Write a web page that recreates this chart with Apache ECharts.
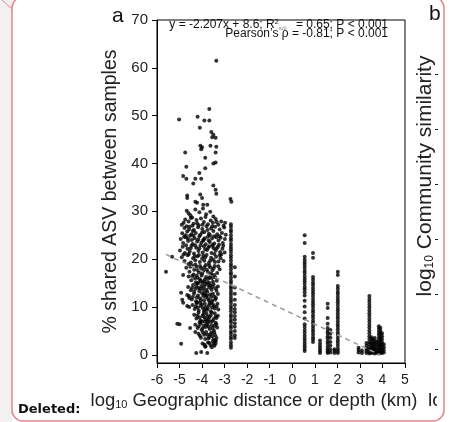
<!DOCTYPE html>
<html>
<head>
<meta charset="utf-8">
<script src="https://cdn.jsdelivr.net/npm/echarts@6/dist/echarts.min.js"></script>
<style>
  html, body { margin: 0; padding: 0; background: #fff; }
  #chart { width: 454px; height: 422px; }
</style>
</head>
<body>
<div id="chart"></div>
<script>
// x ticks and y ticks of panel a
const xTicks = [-6, -5, -4, -3, -2, -1, 0, 1, 2, 3, 4, 5];
const yTicks = [0, 10, 20, 30, 40, 50, 60, 70];

// sparse high points of the small-distance cloud
const cloudHigh = [
  [-3.37, 61.5], [-5.02, 49.2], [-4.2, 49.8], [-4.1, 47.5], [-3.9, 49.0], [-3.68, 49.0], [-3.68, 51.4],
  [-4.75, 42.3], [-4.7, 39.3], [-4.84, 37.4], [-4.7, 36.8], [-4.08, 43.7], [-4.04, 43.0], [-4.0, 43.4],
  [-3.63, 43.7], [-3.37, 43.5], [-3.59, 46.6], [-3.5, 46.0], [-3.4, 45.4], [-3.55, 45.5], [-3.4, 42.3],
  [-3.86, 41.2], [-4.12, 38.0], [-3.86, 39.0], [-3.5, 40.0], [-3.4, 40.2], [-4.3, 36.8], [-4.39, 35.8],
  [-4.04, 36.8], [-3.5, 35.4], [-3.4, 34.5], [-3.37, 33.7], [-4.66, 33.3], [-4.66, 32.8], [-4.08, 33.5],
  [-4.0, 32.8], [-4.3, 32.0], [-4.22, 31.8], [-3.95, 31.4], [-3.77, 31.4], [-2.74, 32.6], [-2.7, 32.0]
];

// dense cloud, x between -5 and -2.9
const cloudMain = [
  [-4.68, 30.1], [-4.6, 29.6], [-4.52, 29.2], [-4.3, 30.4], [-4.12, 29.8], [-3.96, 30.6], [-3.82, 29.4], [-3.64, 29.9], [-3.5, 28.9], [-4.44, 28.7],
  [-4.82, 27.6], [-4.75, 28.3], [-4.6, 27.9], [-4.5, 28.6], [-4.38, 27.4], [-4.25, 28.2], [-4.15, 27.1], [-4.05, 28.5], [-3.92, 27.8], [-3.85, 28.8],
  [-3.74, 27.3], [-3.62, 28.1], [-3.52, 27.6], [-3.4, 28.4], [-3.28, 27.2], [-3.15, 27.9], [-3.05, 27.0], [-2.98, 27.6], [-4.9, 27.2], [-4.43, 27.0],
  [-4.88, 25.4], [-4.78, 26.5], [-4.66, 25.8], [-4.56, 26.8], [-4.47, 25.2], [-4.36, 26.1], [-4.28, 25.5], [-4.18, 26.7], [-4.08, 25.1], [-3.99, 26.3],
  [-3.9, 25.7], [-3.8, 26.9], [-3.7, 25.3], [-3.6, 26.4], [-3.5, 25.9], [-3.42, 26.8], [-3.33, 25.2], [-3.22, 26.2], [-3.12, 25.5], [-3.02, 26.6],
  [-2.95, 25.1], [-4.72, 25.0], [-4.0, 25.6], [-3.65, 25.0],
  [-4.95, 24.2], [-4.84, 23.4], [-4.73, 24.6], [-4.62, 23.8], [-4.53, 24.9], [-4.42, 23.2], [-4.33, 24.4], [-4.22, 23.7], [-4.12, 24.8], [-4.03, 23.5],
  [-3.93, 24.1], [-3.84, 23.1], [-3.74, 24.7], [-3.66, 23.6], [-3.56, 24.3], [-3.46, 23.3], [-3.37, 24.6], [-3.27, 23.9], [-3.18, 24.5], [-3.08, 23.4],
  [-2.99, 24.2], [-4.46, 24.0], [-3.88, 24.4], [-3.52, 23.0],
  [-4.98, 21.8], [-4.86, 22.6], [-4.76, 21.3], [-4.65, 22.2], [-4.55, 21.6], [-4.47, 22.8], [-4.36, 21.2], [-4.26, 22.4], [-4.16, 21.7], [-4.07, 22.9],
  [-3.97, 21.4], [-3.87, 22.1], [-3.78, 21.9], [-3.68, 22.7], [-3.58, 21.3], [-3.49, 22.3], [-3.4, 21.8], [-3.3, 22.6], [-3.2, 21.5], [-3.1, 22.2],
  [-3.0, 21.4], [-3.45, 21.1], [-3.25, 23.0], [-3.15, 21.0],
  [-4.9, 20.4], [-4.78, 19.6], [-4.64, 20.8], [-4.5, 19.3], [-4.4, 20.2], [-4.3, 19.8], [-4.2, 20.6], [-4.1, 19.4], [-4.0, 20.1], [-3.9, 19.7],
  [-3.8, 20.9], [-3.7, 19.2], [-3.6, 20.3], [-3.5, 19.9], [-3.38, 20.5], [-3.27, 19.5], [-3.18, 20.2], [-3.05, 19.6], [-4.6, 19.0], [-3.95, 20.7],
  [-4.7, 18.2], [-4.56, 17.4], [-4.45, 18.7], [-4.35, 17.8], [-4.24, 18.4], [-4.14, 17.2], [-4.04, 18.1], [-3.94, 17.6], [-3.84, 18.8], [-3.74, 17.3],
  [-3.64, 18.3], [-3.54, 17.7], [-3.44, 18.6], [-3.33, 17.1], [-3.22, 17.9], [-4.0, 17.0], [-3.6, 17.0],
  [-4.6, 16.4], [-4.48, 15.6], [-4.38, 16.8], [-4.28, 15.2], [-4.2, 16.1], [-4.1, 15.8], [-4.02, 16.6], [-3.92, 15.4], [-3.82, 16.3], [-3.72, 15.9],
  [-3.62, 16.7], [-3.52, 15.3], [-3.42, 16.2], [-3.35, 15.5], [-4.32, 16.0], [-3.98, 15.1], [-3.68, 15.0],
  [-4.62, 14.2], [-4.5, 13.5], [-4.4, 14.6], [-4.3, 13.8], [-4.21, 14.9], [-4.12, 13.3], [-4.03, 14.4], [-3.95, 13.7], [-3.86, 14.8], [-3.77, 13.2],
  [-3.68, 14.1], [-3.58, 13.6], [-3.49, 14.7], [-3.4, 13.9], [-3.3, 14.3], [-4.16, 14.0], [-3.9, 13.0], [-3.62, 14.5],
  [-4.58, 12.3], [-4.46, 11.6], [-4.36, 12.8], [-4.27, 11.2], [-4.18, 12.4], [-4.09, 11.8], [-4.0, 12.9], [-3.91, 11.4], [-3.82, 12.1], [-3.73, 11.7],
  [-3.64, 12.6], [-3.55, 11.3], [-3.46, 12.2], [-3.38, 11.9], [-3.3, 12.7], [-4.22, 11.0], [-3.86, 12.5], [-3.6, 11.0],
  [-4.42, 10.4], [-4.33, 9.6], [-4.24, 10.8], [-4.15, 9.3], [-4.06, 10.2], [-3.97, 9.8], [-3.88, 10.7], [-3.79, 9.4], [-3.7, 10.3], [-3.61, 9.1],
  [-3.52, 10.6], [-3.44, 9.7], [-3.36, 10.1], [-3.28, 9.5], [-4.1, 10.9], [-3.92, 9.0], [-3.56, 9.9],
  [-4.35, 8.4], [-4.25, 7.6], [-4.16, 8.8], [-4.07, 7.2], [-3.98, 8.1], [-3.89, 7.8], [-3.8, 8.6], [-3.71, 7.4], [-3.62, 8.3], [-3.53, 7.1],
  [-3.44, 8.7], [-3.36, 7.7], [-3.3, 8.2], [-4.0, 7.0], [-3.75, 8.0],
  [-4.3, 6.3], [-4.2, 5.6], [-4.11, 6.8], [-4.02, 5.2], [-3.93, 6.1], [-3.84, 5.8], [-3.75, 6.6], [-3.66, 5.4], [-3.57, 6.2], [-3.48, 5.1],
  [-3.4, 6.7], [-3.33, 5.7], [-3.88, 6.9],
  [-4.16, 4.4], [-4.05, 3.6], [-3.96, 4.7], [-3.86, 3.3], [-3.77, 4.2], [-3.68, 3.8], [-3.59, 4.6], [-3.5, 3.2], [-3.42, 4.1], [-3.36, 3.5],
  [-3.98, 2.4], [-3.85, 1.8], [-3.74, 2.6], [-3.62, 2.0], [-3.52, 2.8], [-3.45, 1.9], [-3.4, 2.4]
];

// more points filling the densest part of the cloud
const cloudCore = [
  [-4.58, 26.2], [-4.41, 25.9], [-4.22, 27.5], [-3.98, 27.2], [-3.76, 26.1], [-3.55, 26.9], [-3.35, 27.8], [-4.69, 26.9],
  [-4.63, 24.3], [-4.38, 24.9], [-4.17, 24.1], [-3.95, 23.9], [-3.71, 23.9], [-3.47, 24.8], [-3.23, 24.8], [-4.8, 24.7],
  [-4.71, 22.9], [-4.51, 22.3], [-4.31, 22.9], [-4.12, 22.3], [-3.92, 22.7], [-3.73, 22.4], [-3.54, 22.8], [-3.35, 22.3], [-3.06, 22.8],
  [-4.82, 21.0], [-4.59, 21.1], [-4.33, 20.6], [-4.14, 20.9], [-3.86, 20.4], [-3.64, 19.7], [-3.43, 19.4], [-3.22, 20.8],
  [-4.52, 18.4], [-4.3, 18.9], [-4.09, 18.6], [-3.9, 18.3], [-3.69, 18.7], [-3.49, 18.1], [-3.28, 18.5], [-4.19, 17.7], [-3.79, 17.8],
  [-4.44, 16.5], [-4.24, 16.6], [-4.06, 15.5], [-3.87, 15.8], [-3.66, 16.2], [-3.47, 16.7], [-4.15, 15.1], [-3.77, 15.2], [-3.57, 16.0],
  [-4.45, 14.0], [-4.25, 14.4], [-4.08, 13.8], [-3.91, 14.3], [-3.73, 14.6], [-3.54, 14.2], [-3.36, 13.4], [-3.81, 13.6], [-4.35, 13.2],
  [-4.41, 12.1], [-4.23, 12.0], [-4.05, 11.4], [-3.95, 12.3], [-3.78, 12.4], [-3.6, 12.1], [-3.42, 11.5], [-3.69, 11.3], [-3.52, 12.8],
  [-4.28, 10.1], [-4.19, 9.9], [-4.01, 10.6], [-3.84, 10.0], [-3.75, 9.7], [-3.66, 10.8], [-3.48, 10.2], [-3.32, 10.7], [-3.9, 9.4],
  [-4.21, 8.2], [-4.11, 7.8], [-3.94, 8.5], [-3.85, 7.4], [-3.67, 7.9], [-3.58, 8.8], [-3.4, 8.0], [-3.49, 7.5], [-3.76, 7.1],
  [-4.15, 6.0], [-4.07, 6.5], [-3.98, 5.5], [-3.8, 6.3], [-3.71, 5.9], [-3.62, 6.9], [-3.53, 5.6], [-3.44, 6.1], [-3.37, 6.4],
  [-4.1, 4.0], [-3.91, 4.2], [-3.82, 4.8], [-3.72, 3.4], [-3.64, 4.3], [-3.55, 3.9], [-3.46, 4.6], [-3.39, 2.9],
  [-3.9, 2.1], [-3.68, 2.5], [-3.57, 1.6], [-3.48, 2.3], [-3.42, 3.0]
];

// scattered points left and below the cloud
const cloudLow = [
  [-5.6, 17.4], [-5.33, 20.5], [-5.1, 6.5], [-5.0, 6.4], [-4.93, 2.3], [-4.84, 16.7], [-4.93, 13.0], [-4.88, 11.5],
  [-4.84, 10.9], [-4.66, 10.2], [-4.57, 10.0], [-4.57, 11.9], [-4.66, 12.5], [-4.53, 5.6], [-4.26, 0.4], [-4.04, 0.6],
  [-3.77, 0.4], [-4.3, 4.8], [-3.86, 1.7]
];

// vertical columns: x position and y values read along each column
const colXs = [-2.72, -2.55, 0.55, 0.92, 1.23, 1.57, 1.69, 1.87, 2.02, 2.94, 3.09, 3.29, 3.42, 3.51, 3.58, 3.66, 3.75, 3.84, 3.91, 3.98, 4.06];
const colM272 = [27.3, 26.8, 26.1, 25.7, 25.0, 24.4, 23.9, 23.2, 22.6, 22.1, 21.5, 20.8, 20.3, 19.7, 19.0, 18.5, 17.9, 17.2, 16.8, 16.1, 15.5, 15.0, 14.3, 13.8, 13.2, 12.6, 12.0, 11.4, 10.9, 10.2, 9.7, 9.1, 8.4, 7.9, 7.3, 6.8, 6.1, 5.6, 4.9, 4.4, 3.8, 3.3, 2.6, 2.0, 1.5];
const colM255 = [18.3, 16.4, 14.1, 12.8, 11.5, 10.4, 9.6, 8.9, 8.1, 7.4, 6.6, 5.9, 5.0, 4.1, 3.5];
const col055 = [25.0, 23.4, 20.5, 19.9, 19.3, 18.8, 18.2, 17.6, 17.1, 16.5, 15.9, 15.4, 14.8, 14.2, 13.7, 13.1, 12.4, 11.3, 10.1, 8.9, 7.6, 6.4, 5.8, 5.2, 4.6, 4.0, 3.4, 2.9, 2.3, 1.8, 1.3, 0.8];
const col092 = [21.3, 20.3, 16.3, 15.7, 15.1, 14.6, 14.0, 13.4, 12.9, 12.3, 11.7, 11.1, 10.6, 10.0, 9.4, 8.9, 8.3, 7.7, 7.1, 6.6, 6.0, 5.4, 4.9, 4.3, 3.7, 3.2, 2.7];
const col123 = [3.0, 2.4, 1.8, 1.3, 0.8, 0.4];
const col157 = [10.7, 9.8, 7.7, 6.5, 5.6, 5.0, 4.5, 3.9, 3.4, 2.8, 2.3, 1.7, 1.2, 0.7, 0.4];
const col169 = [5.2, 4.4, 3.6, 2.7, 1.9, 1.1, 0.5];
const col187 = [1.2, 0.8, 0.4];
const col202 = [17.4, 16.7, 14.4, 13.8, 13.2, 12.7, 12.1, 11.5, 11.0, 10.4, 9.8, 9.3, 8.7, 8.1, 7.6, 7.0, 6.4, 5.9, 5.3, 4.7, 4.2, 3.6, 3.0, 2.5, 1.9, 1.3, 0.8, 0.4];
const col294 = [1.5, 1.0, 0.5];
const col309 = [0.9, 0.4];
const col329 = [2.5, 1.9, 1.3, 0.8, 0.4];
const col342 = [12.3, 11.7, 11.1, 10.5, 9.9, 9.3, 8.7, 8.1, 7.5, 6.9, 6.3, 5.7, 5.1, 4.5, 3.9, 3.3, 2.7, 2.2, 1.6, 1.1, 0.6, 0.3];
const col351 = [3.7, 3.1, 2.5, 1.9, 1.4, 0.9, 0.4];
const col358 = [3.3, 2.7, 2.1, 1.5, 1.0, 0.5];
const col366 = [3.5, 2.9, 2.3, 1.7, 1.2, 0.6, 0.3];
const col375 = [2.8, 2.2, 1.6, 1.0, 0.5];
const col384 = [6.0, 5.4, 4.8, 4.2, 3.6, 3.0, 2.4, 1.8, 1.2, 0.6, 0.3];
const col391 = [5.6, 5.0, 4.4, 3.8, 3.2, 2.6, 2.0, 1.4, 0.8, 0.4];
const col398 = [4.5, 3.9, 3.3, 2.7, 2.1, 1.5, 0.9, 0.4];
const col406 = [2.2, 1.6, 1.0, 0.5];
const colYs = [colM272, colM255, col055, col092, col123, col157, col169, col187, col202, col294, col309,
  col329, col342, col351, col358, col366, col375, col384, col391, col398, col406];

// fitted line end points (y = -2.207x + 8.6)
const fitLine = [[-5.6, 21.0], [3.9, 0.0]];

// ticks of the cut-off panel b axis
const bTicks = [0, 1, 2, 3, 4, 5];

const FONT = '"Liberation Sans", Arial, sans-serif';

const columnPts = [];
colXs.forEach((x, i) => colYs[i].forEach(y => columnPts.push([x, y])));
const allPts = cloudHigh.concat(cloudMain, cloudCore, cloudLow, columnPts);

const chart = echarts.init(document.getElementById('chart'), null, { renderer: 'canvas' });

chart.setOption({
  animation: false,
  backgroundColor: '#fff',
  grid: [
    { left: 157, right: 49, top: 20, bottom: 59, show: true, borderColor: '#000', borderWidth: 1, backgroundColor: 'transparent' },
    { left: 438, width: 6, top: 74, height: 275, show: false }
  ],
  xAxis: [{
    type: 'value', gridIndex: 0, min: -6, max: 5, interval: 1,
    axisLine: { show: true, onZero: false, lineStyle: { color: '#000', width: 1 } },
    axisTick: { show: true, length: 5, lineStyle: { color: '#000' } },
    axisLabel: { color: '#222', fontSize: 14, fontFamily: FONT, margin: 10 },
    splitLine: { show: false }
  }, {
    type: 'value', gridIndex: 1, show: false
  }],
  yAxis: [{
    type: 'value', gridIndex: 0, min: -1.7, max: 70,
    name: '% shared ASV between samples', nameLocation: 'middle', nameGap: 33,
    nameTextStyle: { color: '#222', fontSize: 19.5, fontFamily: FONT },
    axisLine: { show: true, onZero: false, lineStyle: { color: '#000', width: 1 } },
    axisTick: { show: true, length: 5, customValues: yTicks, lineStyle: { color: '#000' } },
    axisLabel: { color: '#222', fontSize: 15, fontFamily: FONT, margin: 9, customValues: yTicks },
    splitLine: { show: false }
  }, {
    type: 'value', gridIndex: 1, min: 0, max: 5, interval: 1,
    axisLine: { show: false },
    axisTick: { show: true, length: 3, customValues: bTicks, lineStyle: { color: '#222' } },
    axisLabel: { show: false },
    splitLine: { show: false }
  }],
  series: [{
    type: 'scatter',
    data: allPts,
    symbolSize: 4,
    itemStyle: { color: '#000' },
    silent: true
  }, {
    type: 'line',
    data: fitLine,
    symbol: 'none',
    lineStyle: { color: '#9a9a9a', width: 1.5, type: [5, 4] },
    silent: true,
    z: 3
  }],
  graphic: [
    { type: 'rect', shape: { x: 0, y: 0, width: 12, height: 422 }, style: { fill: '#f1f1f1' }, z: -10, silent: true },
    { type: 'text', x: 428, y: 401, style: { text: 'log', font: '19px ' + FONT, fill: '#222', verticalAlign: 'middle' } },
    { type: 'rect', shape: { x: 437, y: 388, width: 17, height: 26 }, style: { fill: '#fff' }, z: 5, silent: true },
    { type: 'rect', shape: { x: 12, y: -3, width: 432, height: 424, r: 11 }, style: { fill: 'none', stroke: '#e3868c', lineWidth: 1.5 }, z: 10, silent: true },
    { type: 'line', shape: { x1: 2, y1: 0, x2: 12, y2: 9 }, style: { stroke: '#e3868c', lineWidth: 1 }, z: 10, silent: true },
    { type: 'text', x: 112, y: 16, style: { text: 'a', font: '21px ' + FONT, fill: '#111', verticalAlign: 'middle' } },
    { type: 'text', x: 429, y: 14, style: { text: 'b', font: '21px ' + FONT, fill: '#111', verticalAlign: 'middle' } },
    {
      type: 'text', x: 388, y: 25, z: 20,
      style: {
        text: '{t|y = -2.207x + 8.6; R}{sup|2}{sub|adj}{t| = 0.65; P < 0.001}',
        align: 'right', verticalAlign: 'middle',
        rich: {
          t: { fontSize: 12, fontFamily: FONT, fill: '#111' },
          sup: { fontSize: 7, fontFamily: FONT, fill: '#111', verticalAlign: 'top' },
          sub: { fontSize: 6, fontFamily: FONT, fill: '#999', verticalAlign: 'bottom', padding: [0, 6, 0, 0] }
        }
      }
    },
    { type: 'text', x: 388, y: 34, z: 20, style: { text: 'Pearson\u2019s \u03c1 = -0.81; P < 0.001', align: 'right', verticalAlign: 'middle', font: '12px ' + FONT, fill: '#111' } },
    {
      type: 'text', x: 254, y: 401,
      style: {
        text: '{t|log}{s|10}{t| Geographic distance or depth (km)}',
        align: 'center', verticalAlign: 'middle',
        rich: {
          t: { fontSize: 18.5, fontFamily: FONT, fill: '#222' },
          s: { fontSize: 11, fontFamily: FONT, fill: '#222', verticalAlign: 'bottom' }
        }
      }
    },
    {
      type: 'text', x: 425, y: 176, rotation: Math.PI / 2,
      style: {
        text: '{t|log}{s|10}{t| Community similarity}',
        align: 'center', verticalAlign: 'middle',
        rich: {
          t: { fontSize: 21, fontFamily: FONT, fill: '#222' },
          s: { fontSize: 12, fontFamily: FONT, fill: '#222', verticalAlign: 'bottom' }
        }
      }
    },
    { type: 'text', x: 18, y: 410, style: { text: 'Deleted:', font: 'bold 13px "DejaVu Sans", Verdana, sans-serif', fill: '#111', verticalAlign: 'middle' } }
  ]
});
</script>
</body>
</html>
